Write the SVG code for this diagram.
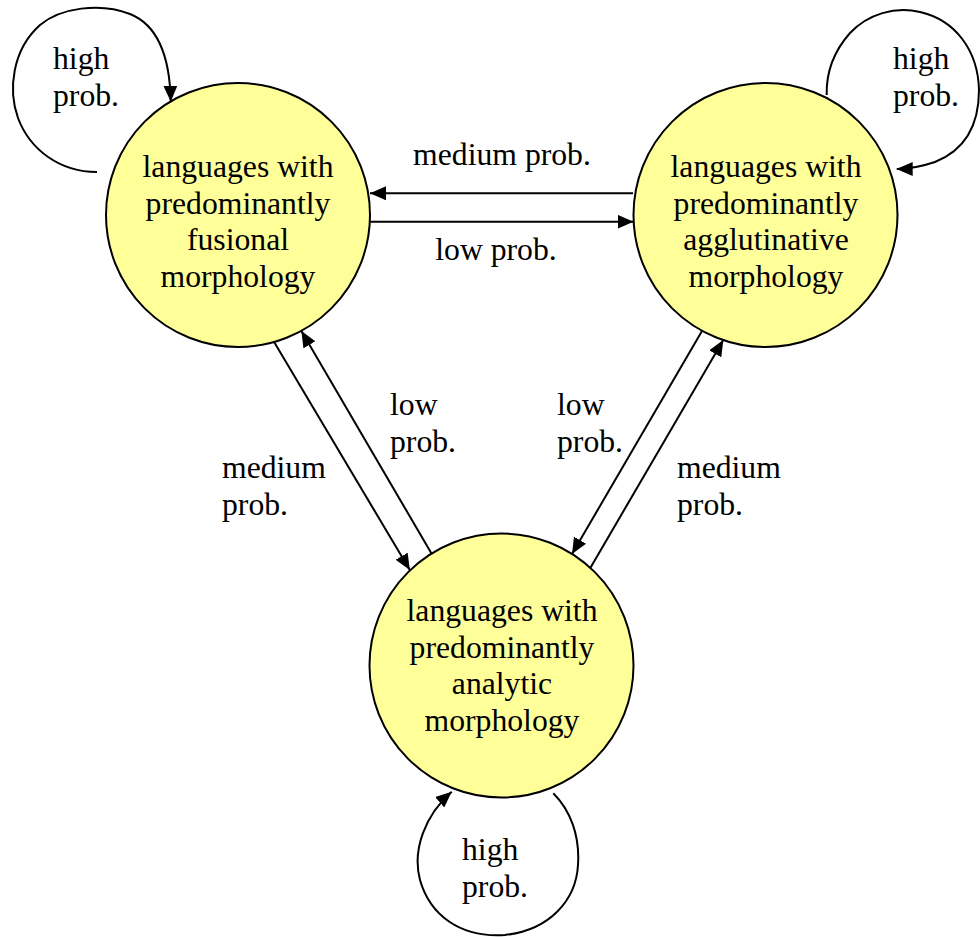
<svg xmlns="http://www.w3.org/2000/svg" width="980" height="937" viewBox="0 0 980 937">
  <defs>
    <marker id="arrow" markerUnits="userSpaceOnUse" markerWidth="16" markerHeight="14" refX="16" refY="7" orient="auto">
      <path d="M0,0 L16,7 L0,14 z" fill="#000"/>
    </marker>
  </defs>
  <style>
    .state { fill: #FFFF99; stroke: #000; stroke-width: 2; }
    .edge { fill: none; stroke: #000; stroke-width: 2; marker-end: url(#arrow); }
    text { font-family: "Liberation Serif", "Times New Roman", serif; font-size: 31.7px; fill: #000; }
    .mid { text-anchor: middle; }
  </style>
  <rect width="980" height="937" fill="#fff"/>

  <!-- transitions -->
  <g id="connectors">
    <!-- fusional <-> agglutinative -->
    <line class="edge" x1="633" y1="193.3" x2="370" y2="193.3"/>
    <line class="edge" x1="370" y1="221.7" x2="633.5" y2="221.7"/>
    <!-- fusional <-> analytic -->
    <line class="edge" x1="274.1" y1="342" x2="409.8" y2="570"/>
    <line class="edge" x1="431.5" y1="553.5" x2="301.4" y2="331"/>
    <!-- agglutinative <-> analytic -->
    <line class="edge" x1="702" y1="331" x2="572" y2="554"/>
    <line class="edge" x1="590.3" y1="568" x2="723.3" y2="340"/>
    <!-- self loops -->
    <path class="edge" d="M97,172 C60,172 30,150 18,118 C8,90 12,50 40,25 C60,8 100,2 130,14 C160,26 170,60 170.7,101.7"/>
    <path class="edge" d="M826.7,95 C826,70 835,50 850,33 C868,14 895,6 920,12 C955,20 978,50 979,90 C979,125 965,150 935,162 C920,167 905,169 896.7,169"/>
    <path class="edge" d="M553.3,793.3 C570,810 580,835 578,865 C576,900 550,930 505,935 C460,938 430,915 420,880 C412,850 425,815 451.7,791.7"/>
  </g>

  <!-- transition labels -->
  <g id="labels">
    <text class="mid" x="502" y="165">medium prob.</text>
    <text class="mid" x="496" y="260">low prob.</text>
    <text x="390" y="415">low</text>
    <text x="390" y="452">prob.</text>
    <text x="222" y="478">medium</text>
    <text x="222" y="515">prob.</text>
    <text x="557" y="415">low</text>
    <text x="557" y="452">prob.</text>
    <text x="677" y="478">medium</text>
    <text x="677" y="515">prob.</text>
    <text x="53" y="69">high</text>
    <text x="53" y="106">prob.</text>
    <text x="893" y="69">high</text>
    <text x="893" y="106">prob.</text>
    <text x="462" y="860">high</text>
    <text x="462" y="897">prob.</text>
  </g>

  <g id="fusional">
    <circle class="state" cx="238" cy="215" r="132"/>
    <text class="mid" x="238" y="177">languages with</text>
    <text class="mid" x="238" y="214">predominantly</text>
    <text class="mid" x="238" y="250">fusional</text>
    <text class="mid" x="238" y="287">morphology</text>
  </g>

  <g id="agglutinative">
    <circle class="state" cx="765.5" cy="215" r="132"/>
    <text class="mid" x="766" y="177">languages with</text>
    <text class="mid" x="766" y="214">predominantly</text>
    <text class="mid" x="766" y="250">agglutinative</text>
    <text class="mid" x="766" y="287">morphology</text>
  </g>

  <g id="analytic">
    <circle class="state" cx="501.5" cy="665.5" r="132"/>
    <text class="mid" x="502" y="621">languages with</text>
    <text class="mid" x="502" y="658">predominantly</text>
    <text class="mid" x="502" y="694">analytic</text>
    <text class="mid" x="502" y="731">morphology</text>
  </g>
</svg>
